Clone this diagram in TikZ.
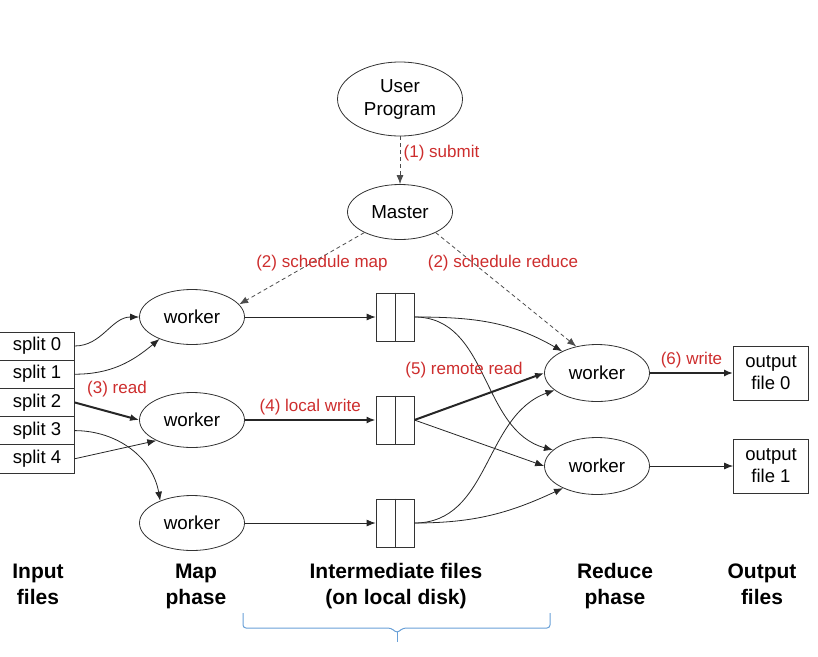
\documentclass[tikz,border=0pt]{standalone}
\usepackage{fontspec}
\setmainfont{Liberation Sans}
\usetikzlibrary{shapes.geometric, arrows.meta, positioning}

\definecolor{stepred}{RGB}{205,45,45}
\definecolor{braceblue}{RGB}{105,160,215}

\begin{document}
\begin{tikzpicture}[
  x=1pt, y=-1pt,
  proc/.style={ellipse, draw=black!80, line width=0.8pt, inner sep=0pt, minimum width=105pt, minimum height=55pt, font=\fontsize{18.8}{23}\selectfont},
  split/.style={rectangle, draw=black!80, line width=0.8pt, outer sep=0pt, inner sep=0pt, minimum width=75pt, minimum height=28.2pt, font=\fontsize{18.5}{20}\selectfont},
  ifile/.style={rectangle, draw=black!80, line width=0.8pt, inner sep=0pt, minimum width=38pt, minimum height=48pt},
  outfile/.style={rectangle, draw=black!80, line width=0.8pt, inner sep=0pt, minimum width=75pt, minimum height=54pt, align=center, font=\fontsize{18.5}{22}\selectfont},
  flow/.style={-{Latex[length=9pt, width=7pt]}, draw=black!85, line width=0.8pt},
  heavy/.style={flow, line width=2pt},
  ctrl/.style={flow, draw=black!70, dash pattern=on 4pt off 3pt},
  tag/.style={text=stepred, font=\fontsize{17}{19}\selectfont},
  phase/.style={align=center, font=\bfseries\fontsize{21}{26}\selectfont}
]
\useasboundingbox (0,0) rectangle (818,656);

% Control
\node[proc, minimum width=125pt, minimum height=74pt, align=center] (user) at (400,99) {User\\Program};
\node[proc] (master) at (400,212) {Master};
\draw[ctrl] (user) -- node[tag, right, pos=0.35] {(1) submit} (master);

% Input splits
\node[split] (s0) at (37,346) {split 0};
\node[split, below=0pt of s0] (s1) {split 1};
\node[split, below=0pt of s1] (s2) {split 2};
\node[split, below=0pt of s2] (s3) {split 3};
\node[split, below=0pt of s3] (s4) {split 4};

% Map workers
\node[proc] (m1) at (192,317) {worker};
\node[proc] (m2) at (192,420) {worker};
\node[proc] (m3) at (192,523) {worker};

% Intermediate files
\node[ifile] (f1) at (395,317) {};
\node[ifile] (f2) at (395,420) {};
\node[ifile] (f3) at (395,523) {};
\foreach \f in {f1,f2,f3}
  \draw[draw=black!80, line width=0.8pt] (\f.north) -- (\f.south);

% Reduce workers and output
\node[proc, minimum height=57pt] (r1) at (597,373) {worker};
\node[proc, minimum height=57pt] (r2) at (597,466) {worker};
\node[outfile] (o0) at (771,373) {output\\file 0};
\node[outfile] (o1) at (771,466) {output\\file 1};

% Scheduling
\draw[ctrl] (master.210) -- (m1.15);
\draw[ctrl] (master.330) -- (r1.128);
\node[tag] (lmap) at (322,263) {(2) schedule map};
\node[tag] (lred) at (503,263) {(2) schedule reduce};

% Read
\draw[flow] (s0.east) to[out=0, in=180] (m1.west);
\draw[flow] (s1.east) to[out=0, in=220] (m1.214);
\draw[heavy] (s2.east) -- (m2.west);
\draw[flow] (s3.east) to[out=0, in=100] (m3.145);
\draw[flow] (s4.east) -- (m2.210);
\node[tag] (lread) at (117,389) {(3) read};

% Local write
\draw[flow] (m1.east) -- (f1.west);
\draw[heavy] (m2.east) -- node[tag, above=1pt] {(4) local write} (f2.west);
\draw[flow] (m3.east) -- (f3.west);

% Remote read
\draw[flow] (f1.east) to[out=0, in=150] (r1.148);
\draw[flow] (f1.east) to[out=0, in=165] (r2.160);
\draw[heavy] (f2.east) -- (r1.west);
\draw[flow] (f2.east) -- (r2.west);
\draw[flow] (f3.east) to[out=0, in=200] (r1.202);
\draw[flow] (f3.east) to[out=0, in=205] (r2.213);
\node[tag] (lremote) at (464,370) {(5) remote read};

% Write
\draw[heavy] (r1.east) -- node[tag, above=1pt] {(6) write} (o0.west);
\draw[flow] (r2.east) -- (o1.west);

% Phases
\node[phase] (pin) at (38,586) {Input\strut\\files\strut};
\node[phase] (pmap) at (196,586) {Map\strut\\phase\strut};
\node[phase] (pmid) at (396,586) {Intermediate files\strut\\(on local disk)\strut};
\node[phase] (pred) at (615,586) {Reduce\strut\\phase\strut};
\node[phase] (pout) at (762,586) {Output\strut\\files\strut};

\draw[braceblue, line width=1pt, rounded corners=3pt]
  (243,613) -- (243,628) -- (391,628) -- (397,633) -- (403,628) -- (550,628) -- (550,613);
\draw[braceblue, line width=1pt] (397,632) -- (397,642);
\end{tikzpicture}
\end{document}
